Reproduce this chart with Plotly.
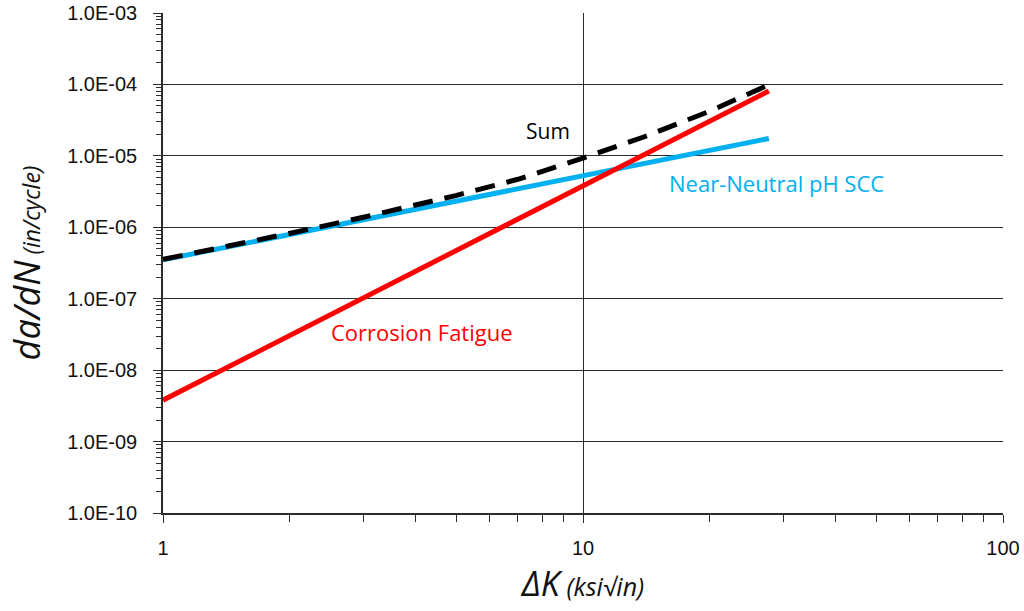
import plotly.graph_objects as go

# Data
dk_cf = [1, 27.7]
da_cf = [3.8e-9, 8.1e-5]

dk_nn = [1, 27.7]
da_nn = [3.5e-7, 1.75e-5]

dk_sum = [1, 1.5, 2, 3, 4, 5, 7, 10, 14, 20, 27.7]
da_sum = [3.55e-7, 5.7e-7, 8.2e-7, 1.38e-6, 2.04e-6, 2.8e-6, 4.7e-6, 9.3e-6, 1.85e-5, 4.2e-5, 9.9e-5]

y_tickvals = [1e-10, 1e-9, 1e-8, 1e-7, 1e-6, 1e-5, 1e-4, 1e-3]
y_ticktext = ["1.0E-10", "1.0E-09", "1.0E-08", "1.0E-07", "1.0E-06", "1.0E-05", "1.0E-04", "1.0E-03"]
x_tickvals = [1, 10, 100]
x_ticktext = ["1", "10", "100"]

RED = "#FF0000"
BLUE = "#00B0F0"

fig = go.Figure()
fig.add_trace(go.Scatter(x=dk_nn, y=da_nn, mode="lines",
                         line=dict(color=BLUE, width=5), name="Near-Neutral pH SCC"))
fig.add_trace(go.Scatter(x=dk_cf, y=da_cf, mode="lines",
                         line=dict(color=RED, width=5), name="Corrosion Fatigue"))
fig.add_trace(go.Scatter(x=dk_sum, y=da_sum, mode="lines",
                         line=dict(color="black", width=5, dash="20px,12px"), name="Sum"))

grid_col = "#2b2b2b"
fig.update_xaxes(type="log", range=[0, 2], tickvals=x_tickvals, ticktext=x_ticktext,
                 automargin=False,
                 showgrid=True, gridcolor=grid_col, gridwidth=1,
                 showline=True, linecolor=grid_col, linewidth=1.5,
                 ticks="outside", ticklen=8, tickcolor=grid_col,
                 ticklabelstandoff=8,
                 minor=dict(ticks="outside", ticklen=7, tickcolor=grid_col, showgrid=False,
                            tickvals=[2, 3, 4, 5, 6, 7, 8, 9, 20, 30, 40, 50, 60, 70, 80, 90]),
                 tickfont=dict(family="Liberation Sans, Arial", size=20, color="#111"),
                 zeroline=False,
                 title=dict(text="<i>ΔK</i><i><span style='font-size:25px'> (ksi√in)</span></i>",
                            font=dict(family="Open Sans", size=34, color="#111"), standoff=14))

y_minor = []
for e in range(-10, -3):
    for m in range(2, 10):
        y_minor.append(m * 10.0 ** e)

fig.update_yaxes(type="log", range=[-10, -3], tickvals=y_tickvals, ticktext=y_ticktext,
                 automargin=False,
                 showgrid=True, gridcolor=grid_col, gridwidth=1,
                 showline=True, linecolor=grid_col, linewidth=1.5,
                 ticks="outside", ticklen=8, tickcolor=grid_col,
                 ticklabelstandoff=12,
                 minor=dict(ticks="outside", ticklen=5, tickcolor=grid_col, showgrid=False,
                            tickvals=y_minor),
                 tickfont=dict(family="Liberation Sans, Arial", size=20, color="#111"),
                 zeroline=False,
                 title=dict(text="<i>da/dN</i><i><span style='font-size:23px'> (in/cycle)</span></i>",
                            font=dict(family="Open Sans", size=36, color="#111"), standoff=16))

fig.add_annotation(x=0.917, y=-4.652, xref="x", yref="y", text="Sum", showarrow=False,
                   font=dict(family="Open Sans", size=21, color="black"))
fig.add_annotation(x=1.46, y=-5.38, xref="x", yref="y", text="Near-Neutral pH SCC", showarrow=False,
                   font=dict(family="Open Sans", size=22, color=BLUE))
fig.add_annotation(x=0.617, y=-7.466, xref="x", yref="y", text="Corrosion Fatigue", showarrow=False,
                   font=dict(family="Open Sans", size=22, color=RED))

fig.update_layout(width=1024, height=611, margin=dict(l=163, r=21, t=13, b=98),
                  plot_bgcolor="white", paper_bgcolor="white", showlegend=False)

fig.write_html("out.html")
